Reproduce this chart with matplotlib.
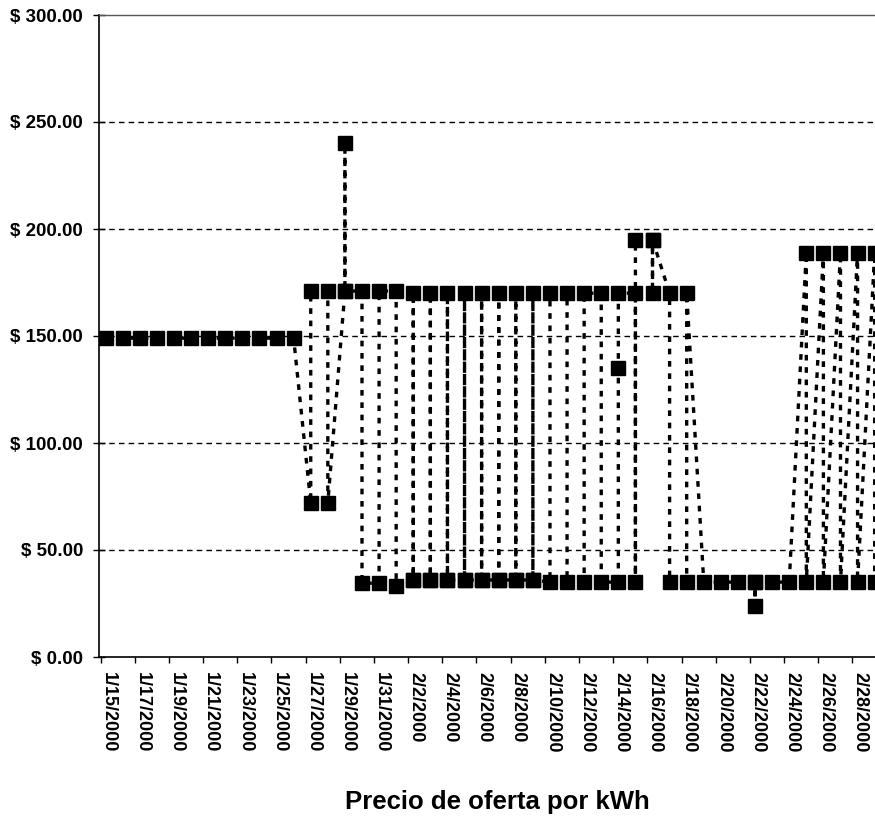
import matplotlib
matplotlib.use("Agg")
import matplotlib.pyplot as plt
import numpy as np
import pandas as pd

plt.rcParams['font.family'] = ['Liberation Sans', 'DejaVu Sans']

# one entry per day; some days hold several offers (drawn in that order)
dias = pd.date_range("2000-01-15", "2000-02-29", freq="D")
ofertas = [
    [149], [149], [149], [149], [149], [149],            # 1/15 - 1/20
    [149], [149], [149], [149], [149], [149],            # 1/21 - 1/26
    [72, 171], [171, 72], [171, 240, 171],               # 1/27 - 1/29
    [171, 34.5], [34.5, 171], [171, 33],                 # 1/30 - 2/1
    [36, 170, 36], [36, 170, 36], [36, 170, 36],         # 2/2 - 2/4
    [36, 170, 36], [36, 170, 36], [36, 170, 36],         # 2/5 - 2/7
    [36, 170, 36], [36, 170, 36],                        # 2/8 - 2/9
    [35, 170], [170, 35], [35, 170], [170, 35],          # 2/10 - 2/13
    [35, 135, 170], [170, 35, 195], [195, 170, 195],     # 2/14 - 2/16
    [170, 35], [35, 170],                                # 2/17 - 2/18
    [35], [35], [35], [35, 24, 35], [35], [35],          # 2/19 - 2/24
    [189, 35], [189, 35], [189, 35], [189, 35], [189, 35],  # 2/25 - 2/29
]
ticks_y = [0, 50, 100, 150, 200, 250, 300]
titulo = "Precio de oferta por kWh"

# flatten to (day offset, price) points
x = []
y = []
for i, vals in enumerate(ofertas):
    for v in vals:
        x.append(i)
        y.append(v)
x = np.array(x, dtype=float)
y = np.array(y, dtype=float)

W, H = 875, 819
fig = plt.figure(figsize=(W / 100, H / 100), dpi=100)
ax = fig.add_axes([99 / W, 1 - 657 / H, (875 - 99) / W, (657 - 15) / H])

# grid
for g in ticks_y[1:-1]:
    ax.axhline(g, color="black", lw=1.0, linestyle=(0, (4, 3)), zorder=1)

ax.plot(x, y, color="black", lw=2.4, linestyle=(0, (1.7, 2.0)),
        marker="s", ms=10.5, mfc="black", mec="black", zorder=3)

ax.set_xlim(-0.39, 45.02)
ax.set_ylim(0, 300)

# y axis
ax.set_yticks(ticks_y)
ax.set_yticklabels([f"$ {v:.2f}" for v in ticks_y], fontsize=13.5, fontweight="bold")
ax.tick_params(axis="y", direction="inout", length=9, width=1, pad=7)

# x axis: labels every 2 days, tick marks slightly left of the day
lab_idx = np.arange(0, 45, 2)
ax.set_xticks(lab_idx + 0.15)
ax.set_xticklabels([f"{dias[i].month}/{dias[i].day}/{dias[i].year}" for i in lab_idx],
                   rotation=270, fontsize=13, fontweight="bold")
ax.tick_params(axis="x", which="major", length=0, pad=11)
ax.set_xticks(np.arange(0, 46, 2) - 0.3, minor=True)
ax.tick_params(axis="x", which="minor", direction="out", length=4, width=1)

ax.spines["right"].set_visible(False)
ax.spines["top"].set_color("#555555")
ax.spines["top"].set_linewidth(1)
ax.spines["left"].set_linewidth(1.2)
ax.spines["bottom"].set_linewidth(1.2)

fig.text(497 / W, 1 - 802 / H, titulo, ha="center", va="center",
         fontsize=18.5, fontweight="bold")

fig.savefig("out.png", dpi=100)
